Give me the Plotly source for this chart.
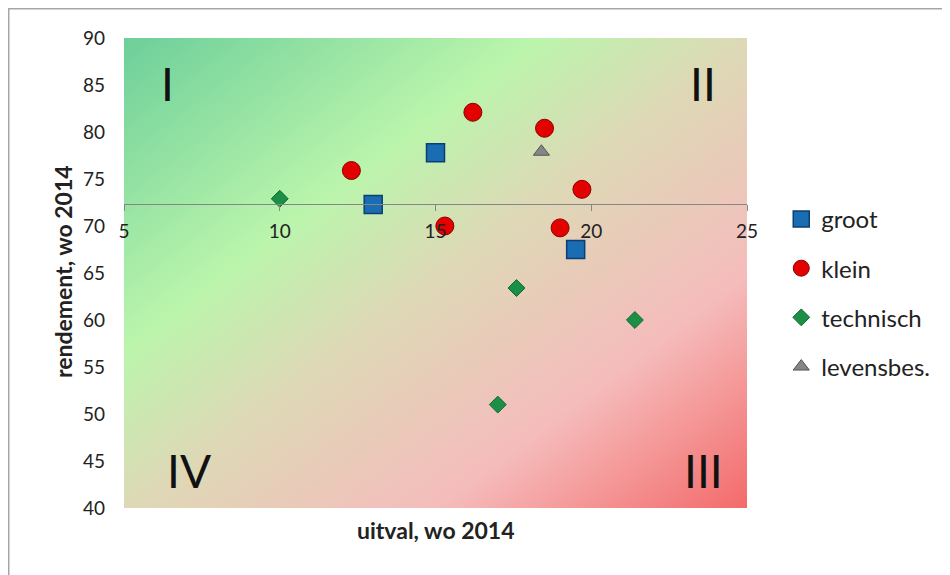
import plotly.graph_objects as go

# data
groot_x = [15.0, 13.0, 19.5]
groot_y = [77.8, 72.3, 67.5]

klein_x = [12.3, 16.2, 15.3, 18.5, 19.7, 19.0]
klein_y = [75.9, 82.1, 70.0, 80.4, 73.9, 69.8]

technisch_x = [10.0, 17.6, 17.0, 21.4]
technisch_y = [72.9, 63.4, 51.0, 60.0]

levensbes_x = [18.4]
levensbes_y = [77.9]

# axes cross at these values
cross_x = 17.7
cross_y = 72.3

quadrant_labels = ["I", "II", "III", "IV"]
quadrant_x = [6.4, 23.6, 23.6, 7.1]
quadrant_y = [85.2, 85.2, 44.0, 44.0]

# background gradient corners (green top-left -> red bottom-right)
bg_x = [5, 25]
bg_y = [40, 90]
bg_z = [[0.5, 1.0], [0.0, 0.5]]

FONT = "Lato"
X_RANGE = [5, 25]
Y_RANGE = [40, 90]

fig = go.Figure()

fig.add_trace(go.Heatmap(
    x=bg_x, y=bg_y, z=bg_z,
    zsmooth="best",
    zmin=0, zmax=1,
    colorscale=[[0, "#6dcf9a"], [0.33, "#bbf5ac"], [0.5, "#ddd9b6"],
                [0.75, "#f5bcbc"], [1, "#f46a6a"]],
    showscale=False, hoverinfo="skip", showlegend=False
))

fig.add_trace(go.Scatter(
    x=groot_x, y=groot_y, mode="markers", name="groot",
    legendgroup="g1",
    marker=dict(symbol="square", size=18, color="#1a6db3",
                line=dict(color="#0b3f73", width=1.5))
))
fig.add_trace(go.Scatter(
    x=klein_x, y=klein_y, mode="markers", name="klein",
    legendgroup="g2",
    marker=dict(symbol="circle", size=18, color="#e30000",
                line=dict(color="#8a0000", width=1))
))
fig.add_trace(go.Scatter(
    x=technisch_x, y=technisch_y, mode="markers", name="technisch",
    legendgroup="g3",
    marker=dict(symbol="diamond", size=13, color="#1a8f45",
                line=dict(color="#0f6a30", width=1))
))
fig.add_trace(go.Scatter(
    x=levensbes_x, y=levensbes_y, mode="markers", name="levensbes.",
    legendgroup="g4",
    marker=dict(symbol="triangle-up", size=14, color="#858585",
                line=dict(color="#555555", width=1))
))

for label, qx, qy in zip(quadrant_labels, quadrant_x, quadrant_y):
    fig.add_annotation(x=qx, y=qy, text=label, showarrow=False,
                       font=dict(family=FONT, size=46, color="#111111"))

x_pos = (cross_y - Y_RANGE[0]) / (Y_RANGE[1] - Y_RANGE[0])
y_pos = (cross_x - X_RANGE[0]) / (X_RANGE[1] - X_RANGE[0])

# the page puts the figure 8px in from the top-left corner
fig.update_layout(
    width=942, height=567,
    margin=dict(l=116, r=203, t=30, b=67),
    paper_bgcolor="white",
    plot_bgcolor="white",
    font=dict(family=FONT, size=19, color="#222222"),
    xaxis=dict(
        range=X_RANGE, dtick=5, showgrid=False, zeroline=False,
        showline=True, linecolor="#868686", linewidth=1.2,
        ticks="outside", ticklen=6, tickcolor="#868686",
        anchor="free", position=x_pos, ticklabelstandoff=4,
        tickfont=dict(size=19)
    ),
    yaxis=dict(
        range=Y_RANGE, dtick=5, showgrid=False, zeroline=False,
        showline=False, ticks="", ticklabelstandoff=18,
        tickfont=dict(size=19)
    ),
    yaxis2=dict(
        range=Y_RANGE, dtick=5, overlaying="y", anchor="free",
        position=y_pos, side="left", showgrid=False, zeroline=False,
        showline=True, linecolor="#868686", linewidth=1.2,
        ticks="outside", ticklen=6, tickcolor="#868686",
        showticklabels=False
    ),
    legend=dict(
        x=1.055, y=0.662, xanchor="left", yanchor="top",
        font=dict(family=FONT, size=24, color="#222222"),
        tracegroupgap=15, bgcolor="rgba(0,0,0,0)"
    ),
    showlegend=True
)

fig.add_annotation(xref="paper", yref="paper", x=0.5, y=-0.047,
                   xanchor="center", yanchor="middle",
                   text="<b>uitval, wo 2014</b>", showarrow=False,
                   font=dict(family=FONT, size=23, color="#222222"))
fig.add_annotation(xref="paper", yref="paper", x=-0.098, y=0.504,
                   xanchor="center", yanchor="middle",
                   text="<b>rendement, wo 2014</b>", showarrow=False,
                   textangle=-90,
                   font=dict(family=FONT, size=23, color="#222222"))

# outer frame (only left and top edges visible in the picture)
fig.add_shape(type="rect", xref="paper", yref="paper",
              x0=-0.185, y0=-0.17, x1=1.35, y1=1.062,
              line=dict(color="#a6a6a6", width=1.5), layer="below")

fig.write_html("out.html")
